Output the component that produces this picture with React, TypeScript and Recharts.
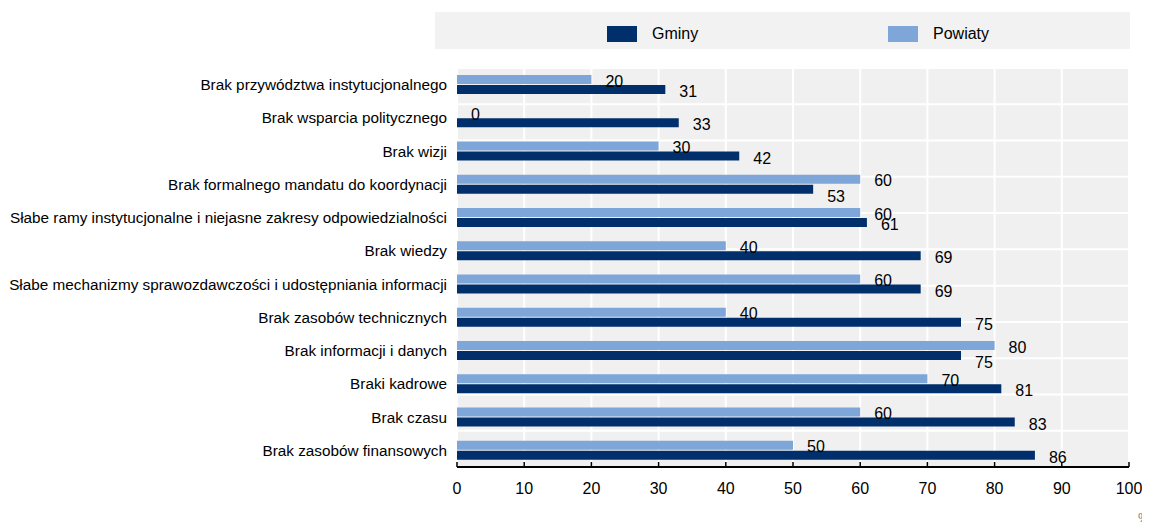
import { Bar, BarChart, CartesianGrid, LabelList, XAxis, YAxis } from "recharts";

const categories = [
  "Brak przywództwa instytucjonalnego",
  "Brak wsparcia politycznego",
  "Brak wizji",
  "Brak formalnego mandatu do koordynacji",
  "Słabe ramy instytucjonalne i niejasne zakresy odpowiedzialności",
  "Brak wiedzy",
  "Słabe mechanizmy sprawozdawczości i udostępniania informacji",
  "Brak zasobów technicznych",
  "Brak informacji i danych",
  "Braki kadrowe",
  "Brak czasu",
  "Brak zasobów finansowych",
];
const gminy = [31, 33, 42, 53, 61, 69, 69, 75, 75, 81, 83, 86];
const powiaty = [20, 0, 30, 60, 60, 40, 60, 40, 80, 70, 60, 50];
const xTicks = [0, 10, 20, 30, 40, 50, 60, 70, 80, 90, 100];
const bandTicks = [0, 1, 2, 3, 4, 5, 6, 7, 8, 9, 10, 11, 12];

const DARK = "#002F6C";
const LIGHT = "#7FA6D9";
const FONT = "'Liberation Sans', Arial, sans-serif";

const data = categories.map((name, i) => ({ name, gminy: gminy[i], powiaty: powiaty[i] }));

// value label to the right of the bar end; Gminy labels drop a bit lower when
// they sit under a longer Powiaty bar (as in the original figure)
function makeLabel(series: "gminy" | "powiaty") {
  return (props: any) => {
    const vb = props.viewBox ?? props;
    const x = Number(vb.x) + Number(vb.width);
    const y = Number(vb.y) + Number(vb.height) / 2;
    const i = props.index;
    let dy = 1.5;
    if (series === "gminy") dy = powiaty[i] > gminy[i] ? 7 : 2;
    return (
      <text x={x + 14} y={y + dy} dy="0.355em" textAnchor="start" fontSize={16} fontFamily={FONT} fill="#000">
        {props.value}
      </text>
    );
  };
}

function LegendBox() {
  const item = (color: string, label: string, left: number) => (
    <div style={{ position: "absolute", left, top: 13, display: "flex", alignItems: "center" }}>
      <div style={{ width: 30, height: 16, background: color }} />
      <span style={{ marginLeft: 15, fontSize: 16, color: "#000" }}>{label}</span>
    </div>
  );
  return (
    <div
      style={{
        position: "absolute",
        left: 427,
        top: 4,
        width: 695,
        height: 37,
        background: "#F2F2F2",
        fontFamily: FONT,
      }}
    >
      {item(DARK, "Gminy", 172)}
      {item(LIGHT, "Powiaty", 453)}
    </div>
  );
}

export default function App() {
  return (
    <div style={{ position: "relative", width: 1142, height: 517, fontFamily: FONT }}>
      <LegendBox />
      <BarChart
        width={1142}
        height={517}
        data={data}
        layout="vertical"
        margin={{ top: 60, right: 21, left: 0, bottom: 28 }}
        barSize={9}
        barGap={1}
      >
        <CartesianGrid fill="#F0F0F0" stroke="#FFFFFF" strokeWidth={2} yAxisId="b" />
        <XAxis
          type="number"
          domain={[0, 100]}
          ticks={xTicks}
          interval={0}
          height={30}
          tickSize={-5}
          tickMargin={21}
          axisLine={{ stroke: "#000", strokeWidth: 2 }}
          tickLine={{ stroke: "#000", strokeWidth: 1.5 }}
          tick={{ fill: "#000", fontSize: 16, fontFamily: FONT }}
        />
        <YAxis
          type="category"
          dataKey="name"
          width={449}
          interval={0}
          tickSize={0}
          tickMargin={10}
          axisLine={false}
          tickLine={false}
          tick={{ fill: "#000", fontSize: 15.3, fontFamily: FONT }}
        />
        <YAxis
          yAxisId="b"
          type="number"
          domain={[0, 12]}
          ticks={bandTicks}
          interval={0}
          mirror
          width={0}
          tickSize={5}
          tickFormatter={() => ""}
          axisLine={{ stroke: "#000", strokeWidth: 2 }}
          tickLine={{ stroke: "#000", strokeWidth: 1.5 }}
        />
        <Bar dataKey="powiaty" name="Powiaty" fill={LIGHT} minPointSize={0.01} isAnimationActive={false}>
          <LabelList dataKey="powiaty" content={makeLabel("powiaty")} />
        </Bar>
        <Bar dataKey="gminy" name="Gminy" fill={DARK} isAnimationActive={false}>
          <LabelList dataKey="gminy" content={makeLabel("gminy")} />
        </Bar>
      </BarChart>
      <div style={{ position: "absolute", left: 1130, top: 502, fontSize: 13, color: "#777" }}>%</div>
    </div>
  );
}
